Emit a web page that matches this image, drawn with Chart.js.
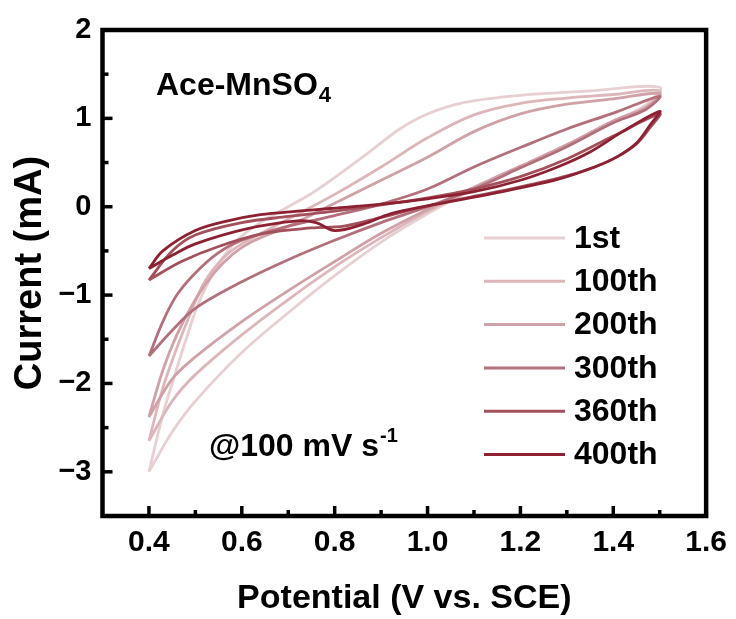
<!DOCTYPE html>
<html>
<head>
<meta charset="utf-8">
<script src="https://cdn.jsdelivr.net/npm/chart.js@4.4.0/dist/chart.umd.min.js"></script>
<style>
  html, body { margin: 0; padding: 0; background: #fff; }
</style>
</head>
<body>
<canvas id="cvChart" width="736" height="619"></canvas>
<script>
// CV cycles, each loop starts at the 0.4 V vertex, sweeps up to 1.5 V and back
const cycleLabels = ['1st', '100th', '200th', '300th', '360th', '400th'];

const v1st   = [0.40, 0.43, 0.45, 0.48, 0.51, 0.55, 0.59, 0.64, 0.70, 0.75, 0.80, 0.87, 0.94, 1.00, 1.08, 1.20, 1.35, 1.50,
                1.47, 1.40, 1.30, 1.20, 1.10, 1.00, 0.90, 0.80, 0.70, 0.60, 0.50, 0.45, 0.40];
const i1st   = [-3.00, -2.35, -2.00, -1.50, -1.05, -0.65, -0.38, -0.18, 0.00, 0.15, 0.33, 0.60, 0.88, 1.05, 1.18, 1.26, 1.31, 1.35,
                1.15, 0.97, 0.70, 0.45, 0.20, -0.08, -0.40, -0.78, -1.20, -1.65, -2.20, -2.55, -3.00];

const v100th = [0.40, 0.43, 0.46, 0.49, 0.52, 0.56, 0.60, 0.70, 0.80, 0.90, 1.00, 1.10, 1.20, 1.30, 1.40, 1.50,
                1.47, 1.40, 1.30, 1.20, 1.10, 1.00, 0.90, 0.80, 0.70, 0.60, 0.50, 0.45, 0.40];
const i100th = [-2.65, -2.05, -1.60, -1.20, -0.85, -0.58, -0.42, -0.14, 0.14, 0.45, 0.78, 1.04, 1.17, 1.23, 1.27, 1.31,
                1.13, 0.97, 0.70, 0.45, 0.20, -0.05, -0.35, -0.68, -1.05, -1.45, -1.90, -2.20, -2.65];

const v200th = [0.40, 0.43, 0.46, 0.50, 0.54, 0.58, 0.62, 0.70, 0.80, 0.90, 1.00, 1.10, 1.20, 1.30, 1.40, 1.50,
                1.47, 1.40, 1.30, 1.20, 1.10, 1.00, 0.90, 0.80, 0.70, 0.60, 0.50, 0.45, 0.40];
const i200th = [-2.38, -1.85, -1.45, -1.05, -0.75, -0.54, -0.40, -0.22, 0.04, 0.30, 0.56, 0.85, 1.05, 1.16, 1.22, 1.28,
                1.12, 0.97, 0.70, 0.46, 0.22, -0.03, -0.30, -0.62, -0.95, -1.30, -1.70, -1.95, -2.38];

const v300th = [0.40, 0.43, 0.46, 0.50, 0.55, 0.60, 0.70, 0.80, 0.90, 1.00, 1.10, 1.20, 1.30, 1.40, 1.50,
                1.47, 1.40, 1.30, 1.20, 1.10, 1.00, 0.90, 0.80, 0.70, 0.60, 0.50, 0.45, 0.40];
const i300th = [-1.69, -1.30, -1.00, -0.75, -0.52, -0.38, -0.22, -0.10, 0.03, 0.20, 0.45, 0.67, 0.88, 1.06, 1.25,
                1.10, 0.95, 0.68, 0.44, 0.20, 0.00, -0.18, -0.38, -0.60, -0.85, -1.15, -1.40, -1.69];

const v360th = [0.40, 0.45, 0.50, 0.60, 0.70, 0.80, 0.90, 1.00, 1.10, 1.20, 1.30, 1.40, 1.50,
                1.48, 1.45, 1.41, 1.36, 1.28, 1.15, 1.00, 0.90, 0.82, 0.75, 0.65, 0.55, 0.47, 0.40];
const i360th = [-0.83, -0.50, -0.32, -0.18, -0.11, -0.05, 0.02, 0.10, 0.20, 0.34, 0.54, 0.80, 1.05,
                0.90, 0.71, 0.57, 0.45, 0.32, 0.17, 0.01, -0.12, -0.22, -0.24, -0.30, -0.45, -0.62, -0.83];

const v400th = [0.40, 0.43, 0.50, 0.57, 0.64, 0.72, 0.79, 0.90, 1.00, 1.10, 1.20, 1.28, 1.35, 1.42, 1.50,
                1.48, 1.45, 1.41, 1.36, 1.28, 1.15, 1.00, 0.92, 0.86, 0.80, 0.76, 0.72, 0.61, 0.50, 0.45, 0.40];
const i400th = [-0.70, -0.50, -0.27, -0.16, -0.09, -0.05, -0.02, 0.03, 0.09, 0.17, 0.30, 0.45, 0.62, 0.85, 1.08,
                0.93, 0.72, 0.57, 0.45, 0.31, 0.16, 0.01, -0.08, -0.20, -0.27, -0.18, -0.16, -0.25, -0.42, -0.55, -0.70];

const potentials = [v1st, v100th, v200th, v300th, v360th, v400th];
const currents = [i1st, i100th, i200th, i300th, i360th, i400th];

const xTickStep = 0.2;
const yTickStep = 1;

const cycleColors = ['#e8cfd1', '#ddb6ba', '#d0a1a7', '#b3707a', '#a3505b', '#8e2131'];

const FONT = 'Arial, "Liberation Sans", sans-serif';

function toPoints(xs, ys) {
    return xs.map((x, k) => ({ x: x, y: ys[k] }));
}

// frame with inward ticks (major + minor) on the bottom and left axes
const frameTicks = {
    id: 'frameTicks',
    afterDraw(chart) {
        const { ctx, chartArea: a, scales: { x, y } } = chart;
        ctx.save();
        ctx.strokeStyle = '#000';
        ctx.lineCap = 'butt';

        ctx.lineWidth = 3.5;
        x.ticks.forEach(t => {
            const px = x.getPixelForValue(t.value);
            if (px > a.left + 2 && px < a.right - 2) {
                ctx.beginPath(); ctx.moveTo(px, a.bottom); ctx.lineTo(px, a.bottom - 10); ctx.stroke();
            }
            const mx = x.getPixelForValue(t.value - xTickStep / 2);
            if (mx > a.left + 2 && mx < a.right - 2) {
                ctx.beginPath(); ctx.moveTo(mx, a.bottom); ctx.lineTo(mx, a.bottom - 6); ctx.stroke();
            }
        });
        y.ticks.forEach(t => {
            const py = y.getPixelForValue(t.value);
            if (py > a.top + 2 && py < a.bottom - 2) {
                ctx.beginPath(); ctx.moveTo(a.left, py); ctx.lineTo(a.left + 10, py); ctx.stroke();
            }
            const my = y.getPixelForValue(t.value - yTickStep / 2);
            if (my > a.top + 2 && my < a.bottom - 2) {
                ctx.beginPath(); ctx.moveTo(a.left, my); ctx.lineTo(a.left + 6, my); ctx.stroke();
            }
        });

        ctx.lineWidth = 4.5;
        ctx.strokeRect(a.left, a.top, a.right - a.left, a.bottom - a.top);
        ctx.restore();
    }
};

// legend lines and the two labels inside the plot
const labelsInside = {
    id: 'labelsInside',
    afterDraw(chart) {
        const ctx = chart.ctx;
        ctx.save();
        ctx.fillStyle = '#000';
        ctx.textBaseline = 'middle';
        ctx.font = 'bold 32px ' + FONT;
        chart.data.datasets.forEach((ds, k) => {
            const yRow = 238 + k * 43.3;
            ctx.strokeStyle = ds.borderColor;
            ctx.lineWidth = 3;
            ctx.beginPath(); ctx.moveTo(484, yRow); ctx.lineTo(565, yRow); ctx.stroke();
            ctx.fillText(ds.label, 574, yRow + 1);
        });

        ctx.textBaseline = 'alphabetic';
        ctx.font = 'bold 32px ' + FONT;
        const main = 'Ace-MnSO';
        ctx.fillText(main, 156, 95);
        const w1 = ctx.measureText(main).width;
        ctx.font = 'bold 22px ' + FONT;
        ctx.fillText('4', 156 + w1 + 1, 102);

        ctx.font = 'bold 32px ' + FONT;
        const rate = '@100 mV s';
        ctx.fillText(rate, 209, 456);
        const w2 = ctx.measureText(rate).width;
        ctx.font = 'bold 20px ' + FONT;
        ctx.fillText('-1', 209 + w2 + 1, 442);
        ctx.restore();
    }
};

const n = cycleLabels.length;
const datasets = cycleLabels.map((label, k) => ({
    label: label,
    data: toPoints(potentials[k], currents[k]),
    borderColor: cycleColors[k],
    borderWidth: 2.8,
    showLine: true,
    fill: false,
    pointRadius: 0,
    tension: 0.35,
    order: n - 1 - k
}));

new Chart(document.getElementById('cvChart').getContext('2d'), {
    type: 'scatter',
    data: { datasets: datasets },
    options: {
        responsive: false,
        animation: false,
        layout: { padding: { top: 30, right: 29, left: 0, bottom: 0 } },
        plugins: {
            legend: { display: false },
            tooltip: { enabled: false }
        },
        scales: {
            x: {
                type: 'linear',
                min: 0.3,
                max: 1.6,
                grid: { display: false, drawTicks: false },
                border: { display: false },
                ticks: {
                    stepSize: xTickStep,
                    includeBounds: false,
                    padding: 9,
                    color: '#000',
                    font: { family: FONT, size: 30, weight: 'bold' }
                },
                title: {
                    display: true,
                    text: 'Potential (V vs. SCE)',
                    color: '#000',
                    padding: { top: 0, bottom: 0 },
                    font: { family: FONT, size: 34, weight: 'bold' }
                },
                afterFit: s => { s.height = 103; }
            },
            y: {
                type: 'linear',
                min: -3.5,
                max: 2,
                grid: { display: false, drawTicks: false },
                border: { display: false },
                ticks: {
                    stepSize: yTickStep,
                    includeBounds: false,
                    padding: 11,
                    color: '#000',
                    font: { family: FONT, size: 29, weight: 'bold' },
                    callback: v => (v < 0 ? '\u2212' : '') + Math.abs(v)
                },
                title: {
                    display: true,
                    text: 'Current (mA)',
                    color: '#000',
                    padding: { top: 8, bottom: 0 },
                    font: { family: FONT, size: 38, weight: 'bold' }
                },
                afterFit: s => { s.width = 102.5; }
            }
        }
    },
    plugins: [frameTicks, labelsInside]
});
</script>
</body>
</html>
